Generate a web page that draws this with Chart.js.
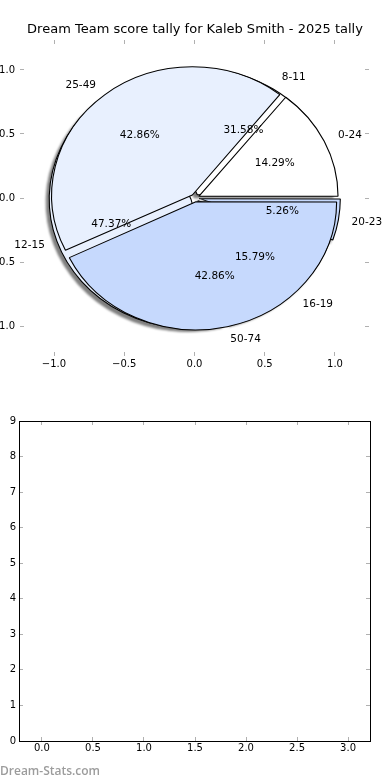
<!DOCTYPE html>
<html>
<head>
<meta charset="utf-8">
<script src="https://cdn.jsdelivr.net/npm/chart.js@4.4.1/dist/chart.umd.min.js"></script>
<style>
  body { margin: 0; background: #fff; }
  #wrap { position: relative; width: 390px; height: 780px; overflow: hidden; }
  #wrap canvas { position: absolute; left: 0; }
  /* only the lower pie casts the shadow, the upper one would shade its own gaps */
  #rangePie { filter: drop-shadow(-3px 3px 1px rgba(0, 0, 0, 0.5)); }
  #watermark {
    position: absolute; left: 0; top: 762px;
    font: 600 12px 'Open Sans', sans-serif; color: #9c9c9c;
  }
</style>
</head>
<body>
<div id="wrap">
  <canvas id="rangePie" width="390" height="390" style="top:0"></canvas>
  <canvas id="scorePie" width="390" height="390" style="top:0"></canvas>
  <canvas id="pieAxes" width="390" height="390" style="top:0"></canvas>
  <canvas id="emptyPlot" width="390" height="390" style="top:390px"></canvas>
  <div id="watermark">Dream-Stats.com</div>
</div>
<script>
const title = 'Dream Team score tally for Kaleb Smith - 2025 tally';

// pie drawn on top
const scoreLabels = ['0-24', '25-49', '50-74'];
const scoreCounts = [1, 3, 3];
// pie drawn underneath
const rangeLabels = ['8-11', '12-15', '16-19', '20-23'];
const rangeCounts = [6, 9, 3, 1];

const pieTicks = [-1.0, -0.5, 0.0, 0.5, 1.0];
const emptyXTicks = [0.0, 0.5, 1.0, 1.5, 2.0, 2.5, 3.0];
const emptyYTicks = [0, 1, 2, 3, 4, 5, 6, 7, 8, 9];

const scoreColors = ['#ffffff', '#e8f0fe', '#c6d9fd'];
const rangeColors = ['#ffffff', '#e8f0fe', '#c6d9fd', '#c6d9fd'];

const UNIT = 128;            // px per data unit, vertical
const SX = 140.5 / UNIT;     // the axes aren't equal aspect, pie is an ellipse
const EXPLODE = 0.03;
const FONT = 'DejaVu Sans';

const fmt1 = v => (v < 0 ? '\u2212' : '') + Math.abs(v).toFixed(1);

// squash the round pie into the ellipse matplotlib drew
const ellipse = {
  id: 'ellipse',
  beforeDatasetsDraw(chart) {
    const { ctx, chartArea: a } = chart;
    const cx = (a.left + a.right) / 2, cy = (a.top + a.bottom) / 2;
    ctx.save();
    ctx.translate(cx, cy);
    ctx.scale(SX, 1);
    ctx.translate(-cx, -cy);
  },
  afterDatasetsDraw(chart) {
    chart.ctx.restore();
  }
};

// matplotlib goes counter clockwise from 3 o'clock, chart.js clockwise -> reverse
function pieConfig(labels, counts, colors) {
  return {
    type: 'pie',
    data: {
      labels: labels.slice().reverse(),
      datasets: [{
        data: counts.slice().reverse(),
        backgroundColor: colors.slice().reverse(),
        borderColor: '#000',
        borderWidth: 1,
        offset: EXPLODE * UNIT * 4,
        radius: 126,
        clip: false
      }]
    },
    options: {
      responsive: false,
      animation: false,
      events: [],
      rotation: 90,
      layout: { padding: { top: 6 } },
      plugins: { legend: { display: false }, tooltip: { enabled: false } }
    },
    plugins: [ellipse]
  };
}

const rangePie = new Chart(document.getElementById('rangePie'), pieConfig(rangeLabels, rangeCounts, rangeColors));
const scorePie = new Chart(document.getElementById('scorePie'), pieConfig(scoreLabels, scoreCounts, scoreColors));

// wedge labels + percentages, drawn above both pies
const wedgeText = {
  id: 'wedgeText',
  afterDraw(chart) {
    const ctx = chart.ctx;
    ctx.save();
    ctx.font = '10.5px "' + FONT + '"';
    ctx.fillStyle = '#000';
    ctx.textBaseline = 'middle';
    [rangePie, scorePie].forEach(pie => {
      const meta = pie.getDatasetMeta(0);
      const values = pie.data.datasets[0].data;
      const total = values.reduce((a, b) => a + b, 0);
      meta.data.forEach((arc, i) => {
        const mid = (arc.startAngle + arc.endAngle) / 2;
        const c = Math.cos(mid), s = Math.sin(mid);
        const at = r => [arc.x + (EXPLODE + r) * UNIT * c * SX, arc.y + (EXPLODE + r) * UNIT * s];
        let [x, y] = at(1.1);
        ctx.textAlign = c > 0 ? 'left' : 'right';
        ctx.fillText(pie.data.labels[i], x, y);
        [x, y] = at(0.6);
        ctx.textAlign = 'center';
        ctx.fillText((values[i] / total * 100).toFixed(2) + '%', x, y);
      });
    });
    ctx.restore();
  }
};

function makeAxis(position, min, max, values, size, opts) {
  return {
    type: 'linear',
    position,
    min,
    max,
    afterBuildTicks: ax => { ax.ticks = values.map(v => ({ value: v })); },
    afterFit: ax => {
      if (ax.isHorizontal()) ax.height = size; else ax.width = size;
    },
    grid: { drawOnChartArea: false, tickLength: -4, color: '#b0b0b0', lineWidth: 1 },
    border: { display: opts.border, color: '#000', width: 1 },
    ticks: {
      color: opts.labels ? '#000' : 'rgba(0,0,0,0)',
      padding: opts.padding || 0,
      autoSkip: false,
      maxRotation: 0,
      font: { family: FONT, size: 10 },
      callback: opts.fmt
    }
  };
}

new Chart(document.getElementById('pieAxes'), {
  type: 'scatter',
  data: { datasets: [] },
  options: {
    responsive: false,
    animation: false,
    events: [],
    layout: { padding: 0 },
    plugins: {
      legend: { display: false },
      tooltip: { enabled: false },
      title: {
        display: true,
        text: title,
        color: '#000',
        font: { family: FONT, size: 13, weight: 'normal' },
        padding: { top: 22, bottom: 2.4 }
      }
    },
    scales: {
      x: makeAxis('bottom', -1.242, 1.242, pieTicks, 34, { labels: true, border: false, padding: 6, fmt: fmt1 }),
      x2: makeAxis('top', -1.242, 1.242, pieTicks, 0, { labels: false, border: false, fmt: fmt1 }),
      y: makeAxis('left', -1.234, 1.234, pieTicks, 20, { labels: true, border: false, padding: 9, fmt: fmt1 }),
      y2: makeAxis('right', -1.234, 1.234, pieTicks, 21, { labels: false, border: false, fmt: fmt1 })
    }
  },
  plugins: [wedgeText]
});

new Chart(document.getElementById('emptyPlot'), {
  type: 'scatter',
  data: { datasets: [] },
  options: {
    responsive: false,
    animation: false,
    events: [],
    layout: { padding: { top: 31 } },
    plugins: { legend: { display: false }, tooltip: { enabled: false } },
    scales: {
      x: makeAxis('bottom', -0.225, 3.215, emptyXTicks, 39, { labels: true, border: true, padding: 5, fmt: fmt1 }),
      x2: makeAxis('top', -0.225, 3.215, emptyXTicks, 0, { labels: false, border: true, fmt: fmt1 }),
      y: makeAxis('left', 0, 9, emptyYTicks, 19, { labels: true, border: true, padding: 7, fmt: v => String(v) }),
      y2: makeAxis('right', 0, 9, emptyYTicks, 20, { labels: false, border: true, fmt: v => String(v) })
    }
  }
});
</script>
</body>
</html>
